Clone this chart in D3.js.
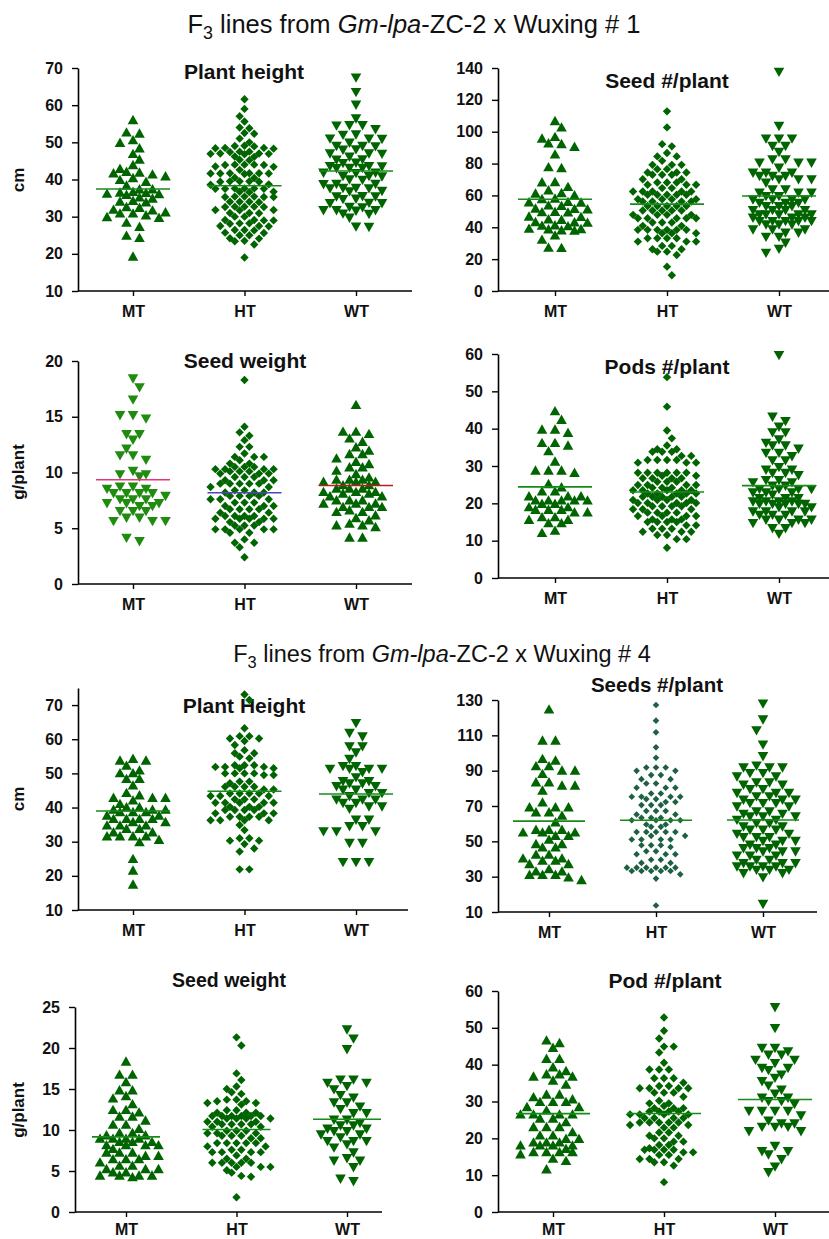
<!DOCTYPE html>
<html>
<head>
<meta charset="utf-8">
<script src="https://cdn.jsdelivr.net/npm/d3@7"></script>
<style>
body { margin: 0; background: #fff; }
text { font-family: "Liberation Sans", Arial, sans-serif; }
</style>
</head>
<body>
<script>
// categories
var groups = ["MT", "HT", "WT"];

// F3 lines x Wuxing # 1
var ph1MT = [56.1,52.8,52.5,50.7,50,48.5,47,45.5,44,43,42.2,42,41.8,41.5,41,40.5,40,39.5,38.5,37.5,37.5,36.8,36.6,36.5,36.3,36.2,36,35.3,35,34.4,34.2,34,32.7,32.5,32,31.8,31.3,31,31,30.5,30,29.8,28.5,27.4,25,24.4,19.4];
var ph1HT = [61.6,59,57,55.6,54,53.8,52.5,52.3,51,50,49.1,49,48.9,48.5,48.5,48.4,48.3,47.5,47.5,47.4,47,47,46.9,46.9,46.8,46.2,46.1,45.3,45.2,44,44,44,43.9,43.9,43.5,43.4,42.6,41.7,41.7,41.7,41.6,41.6,41.6,41.5,40.5,40.4,39.5,39.5,39.5,39.4,39.4,38.7,38.6,37.6,37.6,37.6,37.5,37.5,37.5,36.7,36.7,36.6,35.4,35.4,35.4,35.3,35.3,35.3,34,34,34,33.9,32.7,32.7,32.7,32.6,32.6,31.8,31.8,31.7,31,31,30.9,30,30,29.1,29.1,29,29,28.2,28.2,28.1,27.5,27.5,27.4,26.4,26.4,26.3,25.7,25.6,25,25,24.2,24.1,23.5,23.4,22.5,19];
var ph1WT = [67.3,63.4,60,56.3,54.5,54.5,54.4,53.4,52,51.9,50.9,50.9,50.8,49.8,48.9,48.9,48.8,48,47.9,46.9,46.9,46.8,46,45.3,45.2,44.4,44.3,43.5,43.5,43.4,43,43,42.9,41.7,41.7,41.6,40.8,40.8,40.7,39.9,39.8,38.7,38.7,38.6,37.6,37.6,37.5,37.5,36.8,36.7,35.4,35.3,35.3,34.7,34.6,33.6,33.5,33.5,32.5,32.4,31.6,31.6,31.6,31.5,30.7,30.6,29.6,27.2,27.1];

var sn1MT = [107,103,97,96,93,92.5,90.8,86,78,77.5,68.7,68.5,65.6,63.5,61.8,61.5,60.4,58.3,58,56.2,56,55.8,54,53.8,52,51.8,51.6,50,49.8,49.6,47,46.8,45.3,45,43.6,43.4,43.2,41.5,41.3,41,39.4,39.2,39,38.4,38.2,35.2,32.5,27.5,27.3];
var sn1HT = [112.8,102.7,92.2,90.8,86.6,84.5,84.5,81.7,79.2,79.2,79.2,76.5,76.5,74.4,74.4,74.4,73,73,73,70.2,70.2,68.1,68.1,68.1,66.7,66.7,66.7,64.6,64.6,62.5,62.5,62.5,62.5,62.5,60.4,60.4,60.4,60.4,60.4,57.6,57.6,57.6,57.6,56.2,56.2,56.2,56.2,53.4,53.4,53.4,53.4,53.4,50.5,50.5,50.5,50.5,50.5,47.8,47.8,47.8,47.8,45.7,45.7,45.7,45.7,45.7,43,43,43,40.9,40.9,38.4,38.4,38.4,38.4,38.4,38.4,36.3,36.3,36.3,33.1,33.1,33.1,33.1,31,31,31,28.3,28.3,26.2,26.2,24.7,24.7,22.6,15.3,9.9];
var sn1WT = [137.3,103.3,95.4,95.4,95.4,90.8,90.8,87,82.4,82.4,80.3,80.3,80.3,77.1,74,74,74,71.9,71.9,71.9,69.8,69.8,69.8,67.7,63.5,63.5,61.4,61.4,61.4,59.3,59.3,57.2,57.2,57.2,57.2,55.1,55.1,55.1,53,53,53,50.5,50.5,50.5,50.5,47.8,47.8,47.8,47.8,47.8,45.7,45.7,45.7,43.6,43.6,43.6,43.6,43.6,41.5,41.5,41.5,38.4,38.4,38.4,36.3,36.3,33.7,33.7,30,26.2,23.7];

var sw1MT = [18.4,17.6,16.5,15.1,15.1,14.8,13.4,13.4,12.9,12.1,11.5,11.5,11.1,10.1,9.8,9.8,9.6,8.7,8.7,8.5,8.5,8.1,8.1,8.1,8.1,7.85,7.55,7.55,7.55,7.2,7.2,7.2,6.95,6.95,6.5,6.5,6.5,5.9,5.9,5.6,5.6,5.6,4.1,3.8];
var sw1HT = [18.3,14.1,13.6,13.3,12.9,12.3,12.3,11.7,11.4,11.4,11.4,11.1,10.8,10.8,10.5,10.5,10.5,10.3,10.3,10.3,10.3,10.1,10.1,10.1,9.9,9.9,9.9,9.6,9.6,9.6,9.3,9.3,9.3,9,9,9,9,9,8.7,8.7,8.4,8.4,8.2,8.2,8.2,7.9,7.9,7.9,7.9,7.6,7.6,7.6,7.3,7.3,7.3,7,7,7,6.7,6.7,6.7,6.7,6.4,6.4,6.1,6.1,6.1,6.1,5.85,5.85,5.85,5.85,5.85,5.55,5.55,5.25,5.25,5.25,4.9,4.9,4.9,4.9,4.9,4.6,4.6,4,3.7,3.7,3.3,2.4];
var sw1WT = [16.1,13.7,13.7,13.5,13.1,12.8,12.3,12,11.7,11.7,11.3,11,10.8,10.5,10.5,10.2,9.9,9.6,9.4,9.4,9.4,9.2,9.2,9.2,8.9,8.9,8.6,8.6,8.6,8.3,8.3,8.3,8.15,8.15,7.9,7.9,7.55,7.55,7.55,7.25,7.25,7.25,6.95,6.95,6.95,6.65,6.5,6.5,6.2,5.95,5.75,5.45,5.3,5.3,5.15,4.2,4.2];

var pd1MT = [44.8,42.5,39.9,39.9,39,36.3,36.3,35.6,34.1,31.3,28.9,28.9,28.9,28.3,25.3,24.4,23.3,23.3,22,22,22,20.9,20.9,20.9,20.9,20.9,20,20,19.1,19.1,18.4,18.4,18.4,17.7,17.7,16.4,16.4,15.7,15.7,14.8,14.8,12.8,12.2];
var pd1HT = [53.8,45.9,39.5,37.4,35.5,34.5,34.5,33.8,33.8,33.8,32.7,32.7,31.6,31.6,31.6,31.6,30.9,30.9,30.9,28.2,28.2,28.2,28.2,28.2,28.2,27.4,27.4,26.7,26.7,26.7,26.7,25.8,25.8,25.8,24.9,24.9,24.9,24.9,24.2,24.2,24.2,23.5,23.5,23.5,23.5,23.5,22.65,22.65,22.65,22.65,22.65,21.75,21.75,21.75,21.75,21.75,20.9,20.9,20.9,20.9,20.1,20.1,20.1,20.1,20.1,19.2,19.2,19.2,19.2,18.4,18.4,18.4,17.5,17.5,17.5,17.5,16.6,16.6,16.6,16.6,15.7,15.7,15.7,15,15,15,15,14.1,14.1,13.2,13.2,13.2,12.4,12.4,12.4,11.5,11.5,10.4,10.4,8.1];
var pd1WT = [59.6,43.1,41.9,40.4,38.9,38.9,37,36.1,35.4,35.4,34.5,33.4,33.4,32.5,31.4,31.4,29.6,28.9,28.9,28,28,27.4,26.1,26.1,25.5,25.5,24.6,24.6,23.7,23.7,23.7,23.7,22.8,22.8,22.8,22.2,21.3,21.3,21.3,20.4,20.4,20.4,20.4,19.7,19.7,19.7,19.7,19.7,18.8,18.8,17.7,17.7,17.7,17.7,16.8,16.8,16.8,15.5,15.5,15.5,15.5,14.6,14.6,14.6,13.2,13.2,11.7];

// F3 lines x Wuxing # 4
var ph4MT = [54.4,53.9,53.9,52.4,51,50.2,50.2,48.5,48.5,46.6,44.4,43.7,43,43,43,42.2,41.2,40.2,40.2,39.5,39.5,39.5,38.8,38.8,38.8,37.8,37.8,36.8,36.8,36.8,36.8,35.9,35.9,34.9,34.9,34.9,33.9,33.9,32.9,32.9,31.7,31.7,31.7,31.7,30.7,30,25.1,21.7,17.6];
var ph4HT = [73.1,71.5,63.2,60.9,60.9,60.2,60.2,59.5,58.3,56.8,55.9,55.9,54.9,54.4,52.4,52.4,52.4,51.9,51.9,51.9,51.5,51.5,50,50,50,50,49.5,49.5,47.6,47.6,47.1,46.1,46.1,46.1,46.1,45.3,45.3,44.1,44.1,44.1,44.1,43.4,43.4,43.4,42.4,42.4,42.4,41.4,41.4,41.4,41.4,41.4,40.2,40.2,40.2,39.3,39.3,39.3,39.3,38.3,38.3,38.3,37.3,37.3,37.3,37.3,36.3,36.3,36.3,36.3,34.9,33.4,31,31,30.3,30.3,29.3,28,27.1,21.9,21.9];
var ph4WT = [64.6,61.7,60.7,57.8,57.8,56,54.1,52,52,51.2,51.2,51.2,51.2,50.2,48.7,47.6,47.6,46.9,46.9,46.1,46.1,45.1,45.1,44.1,44.1,43.2,42.2,42.2,42.2,41.2,41.2,40.2,40.2,39.5,36.3,36.3,34.4,34.4,32.9,32.9,32.9,29.5,29.5,23.9,23.9,23.9];

var sn4MT = [124.9,107.3,107.3,96.9,96,92.8,92.8,90.3,90.3,88.4,83.7,83.7,81.8,81.8,79,72.3,69.5,69.5,69.5,66.7,66.7,64.8,61,56.8,56.8,56.8,55.3,55.3,55.3,53.4,53.4,51.2,48.7,48.7,46.8,46.8,42.7,42.7,40.6,40.6,39.3,39.3,37.4,37.4,34.5,33.2,33.2,31.3,31.3,31.3,29.8,28.3];
var sn4HT = [127.2,118.3,111.7,103.2,97.3,91.8,91.8,91.8,89.9,89.9,87.5,87.5,85.2,85.2,82.7,82.7,80.3,80.3,80.3,77.1,77.1,75.2,75.2,75.2,75.2,73.9,73.9,72.3,72.3,70.5,70.5,70.5,67.2,67.2,67.2,65.2,65.2,63.3,63.3,63.3,61.9,61.9,61.9,61.9,59.5,59.5,58.2,58.2,55.3,55.3,55.3,55.3,55.3,53.1,53.1,51,51,51,51,47.8,47.8,47.8,46.8,44.4,44.4,42.7,42.7,42.7,39.6,39.6,37.8,37.8,35.1,35.1,35.1,35.1,35.1,35.1,33.2,33.2,33.2,33.2,33.2,31.3,28.9,13.7];
var sn4WT = [127.7,118.7,112.6,104.5,97.9,92.6,91.6,91.6,91.6,88.4,88.4,86.5,86.5,83.1,83.1,81.8,81.8,79.3,79.3,77.1,77.1,77.1,75.2,75.2,73.3,73.3,73.3,71.4,71.4,71.4,69.5,69.5,66.7,66.7,65.3,65.3,63.8,63.8,63.8,61.9,61.9,60,60,58.2,58.2,56.3,56.3,56.3,54,54,52.1,52.1,52.1,50,50,50,47.8,47.8,45.9,45.9,45.9,44,44,44,41.7,41.7,41.7,39.3,39.3,37.4,37.4,37.4,35.5,35.5,35.5,35.5,33.6,33.6,33.6,31.7,31.7,29.4,14.3];

var sw4MT = [18.4,16.8,16.8,15.9,14.9,14.9,14.2,13.9,13.2,12.5,12.5,12.2,11.7,11.7,11.2,10.7,10.7,10.2,9.7,9.7,9.4,9.4,9,9,9,9,8.6,8.6,8.6,8.2,8.2,8.2,8.2,7.75,7.3,7.3,7.3,6.9,6.9,6.5,6.5,6.5,6.1,5.7,5.7,5.3,5.3,5.3,4.9,4.9,4.5,4.5,4.5,4.5,4.3];
var sw4HT = [21.3,20.3,16.9,16.1,15.3,15,14.6,14.4,13.7,13.7,13.5,13.5,13.3,13.3,13.1,12.4,12.4,12.1,12.1,12.1,11.7,11.7,11.7,11.7,11.7,11.7,11.4,11.4,11.4,11.4,11,11,11,10.7,10.7,10.7,10.7,10.4,10.4,9.9,9.9,9.9,9.6,9.6,9.6,9.3,9.3,9.3,9,9,8.4,8.4,8.4,8.4,8.4,8,8,7.6,7.6,7.3,7.3,7.3,7.3,6.9,6.5,6.5,6,6,6,6,6,5.5,5.5,5.5,5.1,4.8,4.4,4.3,1.8];
var sw4WT = [22.2,21.1,19.8,16.1,16.1,15.7,15.7,15.3,14.9,14.2,13.9,13.3,13.3,12.8,12.5,12,12,11.2,11.2,10.8,10.5,10.5,10.1,10.1,9.8,9.8,9.4,9.4,9.05,8.6,8.6,8.6,8.2,7.8,7.2,6.5,6.2,6.2,5.4,4,3.7];

var pd4MT = [46.7,46,44.7,41.7,41.7,39.4,38.4,37.5,37.5,36.9,36.9,35.8,34.7,32,32,31.3,30.7,30,30,30,28.6,28.6,27.7,26.6,26.6,26.6,26.6,25.5,25.5,24.5,23.2,23.2,23.2,21.8,20.9,20.9,20,20,19,19,19,18.2,18.2,18.2,18.2,17.3,16.4,16.4,16.4,16.4,15.8,14.6,14,11.7];
var pd4HT = [52.8,49.2,47.1,44.9,44.9,43.3,40.5,38.7,38.7,38.7,36.3,36.3,36.3,35.1,34.2,34.2,33.6,33.6,33.6,33.6,32.4,32.4,32.4,31.3,30.2,29.5,29.5,28.8,28.2,28.2,28.2,27.3,27.3,27.3,27.3,26.5,26.5,26.5,26.5,25.5,25.5,25.5,25.5,24.3,24.3,24.3,24.3,24.3,23.6,23.6,22.9,22.9,21.6,21.6,20.7,20.7,20,20,19.1,19.1,18.2,18.2,17.3,16.9,16.9,16.9,16.9,16.2,16.2,15.5,15.5,14.4,14.4,14.4,13.5,13.5,12.6,8.1];
var pd4WT = [55.5,49.8,44.4,44.4,43.5,42.6,42.6,41.2,41.2,40.3,39,39,38.4,37.2,36.3,35.4,34.2,33.1,32,30.9,30.9,30,30,29.2,27.3,27.3,27.3,27.3,26.1,24.7,23.9,23.9,23,23,23,21.8,21.8,17.8,16.4,16.4,15.5,14.2,12.2,10.7];

// tick values
var ticksPH1 = [10, 20, 30, 40, 50, 60, 70];
var ticksSN1 = [0, 20, 40, 60, 80, 100, 120, 140];
var ticksSW1 = [0, 5, 10, 15, 20];
var ticksPD1 = [0, 10, 20, 30, 40, 50, 60];
var ticksPH4 = [10, 20, 30, 40, 50, 60, 70];
var ticksSN4 = [10, 30, 50, 70, 90, 110, 130];
var ticksSW4 = [0, 5, 10, 15, 20, 25];
var ticksPD4 = [0, 10, 20, 30, 40, 50, 60];

var GREEN = "#006400";
var LINE = "#188a18";

var W = 829, H = 1239;
var svg = d3.select("body").append("svg")
    .attr("width", W)
    .attr("height", H);

// 上段・下段のタイトル
function mainTitle(x, y, size, num) {
    var t = svg.append("text")
        .attr("x", x).attr("y", y)
        .attr("text-anchor", "middle")
        .style("font-size", size + "px")
        .attr("fill", "#111");
    t.append("tspan").text("F");
    t.append("tspan").text("3").attr("dy", size * 0.25).style("font-size", (size * 0.7) + "px");
    t.append("tspan").text(" lines from ").attr("dy", -size * 0.25);
    t.append("tspan").text("Gm-lpa").style("font-style", "italic");
    t.append("tspan").text("-ZC-2 x Wuxing # " + num);
}
mainTitle(414, 33, 25.5, 1);
mainTitle(442, 662, 23.5, 4);

var panels = [
    { title: "Plant height", ts: 21, tx: 244, ty: 79, ylab: "cm", ly: 180,
      data: [ph1MT, ph1HT, ph1WT], domain: [10, 70], ticks: ticksPH1,
      ax: 78, xEnd: 412, cx: [133, 356], yr: [291, 68], pad: 10,
      shapes: ["up", "dia", "down"], colors: [GREEN, GREEN, GREEN], lines: [LINE, LINE, LINE], ml: 37 },
    { title: "Seed #/plant", ts: 21, tx: 667, ty: 88,
      data: [sn1MT, sn1HT, sn1WT], domain: [0, 140], ticks: ticksSN1,
      ax: 498, xEnd: 829, cx: [555, 779], yr: [291, 68], pad: 10,
      shapes: ["up", "dia", "down"], colors: [GREEN, GREEN, GREEN], lines: [LINE, LINE, LINE], ml: 37 },
    { title: "Seed weight", ts: 21, tx: 245, ty: 368, ylab: "g/plant", ly: 472,
      data: [sw1MT, sw1HT, sw1WT], domain: [0, 20], ticks: ticksSW1,
      ax: 78, xEnd: 412, cx: [133, 356], yr: [584, 361], pad: 10,
      shapes: ["down", "dia", "up"], colors: ["#1f8c10", GREEN, GREEN], lines: ["#e6347c", "#5544b8", "#b81c1c"], ml: 37 },
    { title: "Pods #/plant", ts: 21, tx: 667, ty: 374,
      data: [pd1MT, pd1HT, pd1WT], domain: [0, 60], ticks: ticksPD1,
      ax: 498, xEnd: 829, cx: [555, 779], yr: [578, 354], pad: 10,
      shapes: ["up", "dia", "down"], colors: [GREEN, GREEN, GREEN], lines: [LINE, LINE, LINE], ml: 37 },
    { title: "Plant Height", ts: 21, tx: 244, ty: 713, ylab: "cm", ly: 799,
      data: [ph4MT, ph4HT, ph4WT], domain: [10, 75], ticks: ticksPH4,
      ax: 78, xEnd: 408, cx: [133, 356], yr: [910, 688], pad: 10,
      shapes: ["up", "dia", "down"], colors: [GREEN, GREEN, GREEN], lines: [LINE, LINE, LINE], ml: 37 },
    { title: "Seeds #/plant", ts: 20.5, tx: 657, ty: 692,
      data: [sn4MT, sn4HT, sn4WT], domain: [10, 130], ticks: ticksSN4,
      ax: 498, xEnd: 817, cx: [549, 763], yr: [912, 700], pad: 10,
      shapes: ["up", "dias", "down"], colors: [GREEN, "#1d6042", GREEN], lines: [LINE, LINE, LINE], ml: 36 },
    { title: "Seed weight", ts: 19.5, tx: 229, ty: 987, ylab: "g/plant", ly: 1110,
      data: [sw4MT, sw4HT, sw4WT], domain: [0, 25], ticks: ticksSW4,
      ax: 75, xEnd: 382, cx: [126, 347], yr: [1212, 1007], pad: 7,
      shapes: ["up", "dia", "down"], colors: [GREEN, GREEN, GREEN], lines: [LINE, LINE, LINE], ml: 34 },
    { title: "Pod #/plant", ts: 21, tx: 665, ty: 988,
      data: [pd4MT, pd4HT, pd4WT], domain: [0, 60], ticks: ticksPD4,
      ax: 498, xEnd: 829, cx: [553, 775], yr: [1212, 991], pad: 7,
      shapes: ["up", "dia", "down"], colors: [GREEN, GREEN, GREEN], lines: [LINE, LINE, LINE], ml: 37 }
];

// マーカーの形と並べ方 (s: 横の間隔, hb: 行の高さ, max: 1行の最大個数)
var shapeDef = {
    up:   { path: "M0,-4.8L5.3,4.6L-5.3,4.6Z", s: 13, hb: 5.5, max: 5 },
    down: { path: "M0,4.8L5.3,-4.6L-5.3,-4.6Z", s: 13, hb: 5.5, max: 5 },
    dia:  { path: "M0,-4.2L4.2,0L0,4.2L-4.2,0Z", s: 9.7, hb: 4.5, max: 7 },
    dias: { path: "M0,-3.3L3.3,0L0,3.3L-3.3,0Z", s: 9.7, hb: 4.5, max: 6 }
};

// 散布図の点を行ごとに横へ並べる (前の行と半分ずらす)
function spread(values, y, S, hb, maxN) {
    var pts = values.map(function(v) { return { v: v, y: y(v), x: 0 }; });
    pts.sort(function(a, b) { return a.y - b.y; });
    var rows = [], cur = null;
    pts.forEach(function(p) {
        if (!cur || p.y - cur.y0 > hb || cur.pts.length >= maxN) {
            cur = { y0: p.y, pts: [] };
            rows.push(cur);
        }
        cur.pts.push(p);
    });
    var prev = null;
    rows.forEach(function(r, k) {
        var n = r.pts.length;
        var lat = n % 2;
        var shift = 0;
        if (prev && prev.lat === lat && r.y0 - prev.y0 < 2 * hb) {
            shift = k % 2 ? 0.5 : -0.5;
            lat = 1 - lat;
        }
        r.lat = lat;
        var slots = d3.range(n).map(function(j) { return (j - (n - 1) / 2 + shift) * S; });
        slots.sort(function(a, b) { return (Math.abs(a) - Math.abs(b)) || (a - b); });
        r.pts.forEach(function(p, j) { p.x = slots[j]; });
        prev = r;
    });
    return pts;
}

panels.forEach(function(P) {
    var g = svg.append("g");

    var y = d3.scaleLinear().domain(P.domain).range(P.yr);
    var x = d3.scalePoint().domain(groups).range(P.cx);

    // y軸
    g.append("g")
        .attr("transform", "translate(" + P.ax + ",0)")
        .call(d3.axisLeft(y).tickValues(P.ticks).tickSize(6).tickSizeOuter(0).tickPadding(9))
        .call(function(a) {
            a.select(".domain").attr("stroke", "#000").attr("stroke-width", 1.6);
            a.selectAll(".tick line").attr("stroke", "#000").attr("stroke-width", 1.4);
            a.selectAll(".tick text").attr("fill", "#111")
                .style("font-size", "16px").style("font-weight", "bold")
                .style("font-family", "'Liberation Sans', Arial, sans-serif");
        });

    // x軸
    g.append("line")
        .attr("x1", P.ax).attr("x2", P.xEnd)
        .attr("y1", P.yr[0]).attr("y2", P.yr[0])
        .attr("stroke", "#000").attr("stroke-width", 1.6);
    g.append("g")
        .attr("transform", "translate(0," + P.yr[0] + ")")
        .call(d3.axisBottom(x).tickSize(5).tickPadding(P.pad))
        .call(function(a) {
            a.select(".domain").remove();
            a.selectAll(".tick line").attr("stroke", "#000").attr("stroke-width", 1.4);
            a.selectAll(".tick text").attr("fill", "#111")
                .style("font-size", "16px").style("font-weight", "bold")
                .style("font-family", "'Liberation Sans', Arial, sans-serif");
        });

    g.append("text")
        .attr("x", P.tx).attr("y", P.ty)
        .attr("text-anchor", "middle")
        .style("font-size", P.ts + "px").style("font-weight", "bold")
        .attr("fill", "#111")
        .text(P.title);

    if (P.ylab) {
        g.append("text")
            .attr("transform", "translate(19," + P.ly + ") rotate(-90)")
            .attr("text-anchor", "middle")
            .attr("dy", "0.32em")
            .style("font-size", "17px").style("font-weight", "bold")
            .attr("fill", "#111")
            .text(P.ylab);
    }

    groups.forEach(function(grp, i) {
        var s = shapeDef[P.shapes[i]];
        var pts = spread(P.data[i], y, s.s, s.hb, s.max);
        var cx = x(grp);
        g.append("g").selectAll("path")
            .data(pts)
            .enter().append("path")
            .attr("d", s.path)
            .attr("transform", function(d) { return "translate(" + (cx + d.x) + "," + d.y + ")"; })
            .attr("fill", P.colors[i]);

        var m = d3.mean(P.data[i]);
        g.append("line")
            .attr("x1", cx - P.ml).attr("x2", cx + P.ml)
            .attr("y1", y(m)).attr("y2", y(m))
            .attr("stroke", P.lines[i]).attr("stroke-width", 1.6);
    });
});
</script>
</body>
</html>
